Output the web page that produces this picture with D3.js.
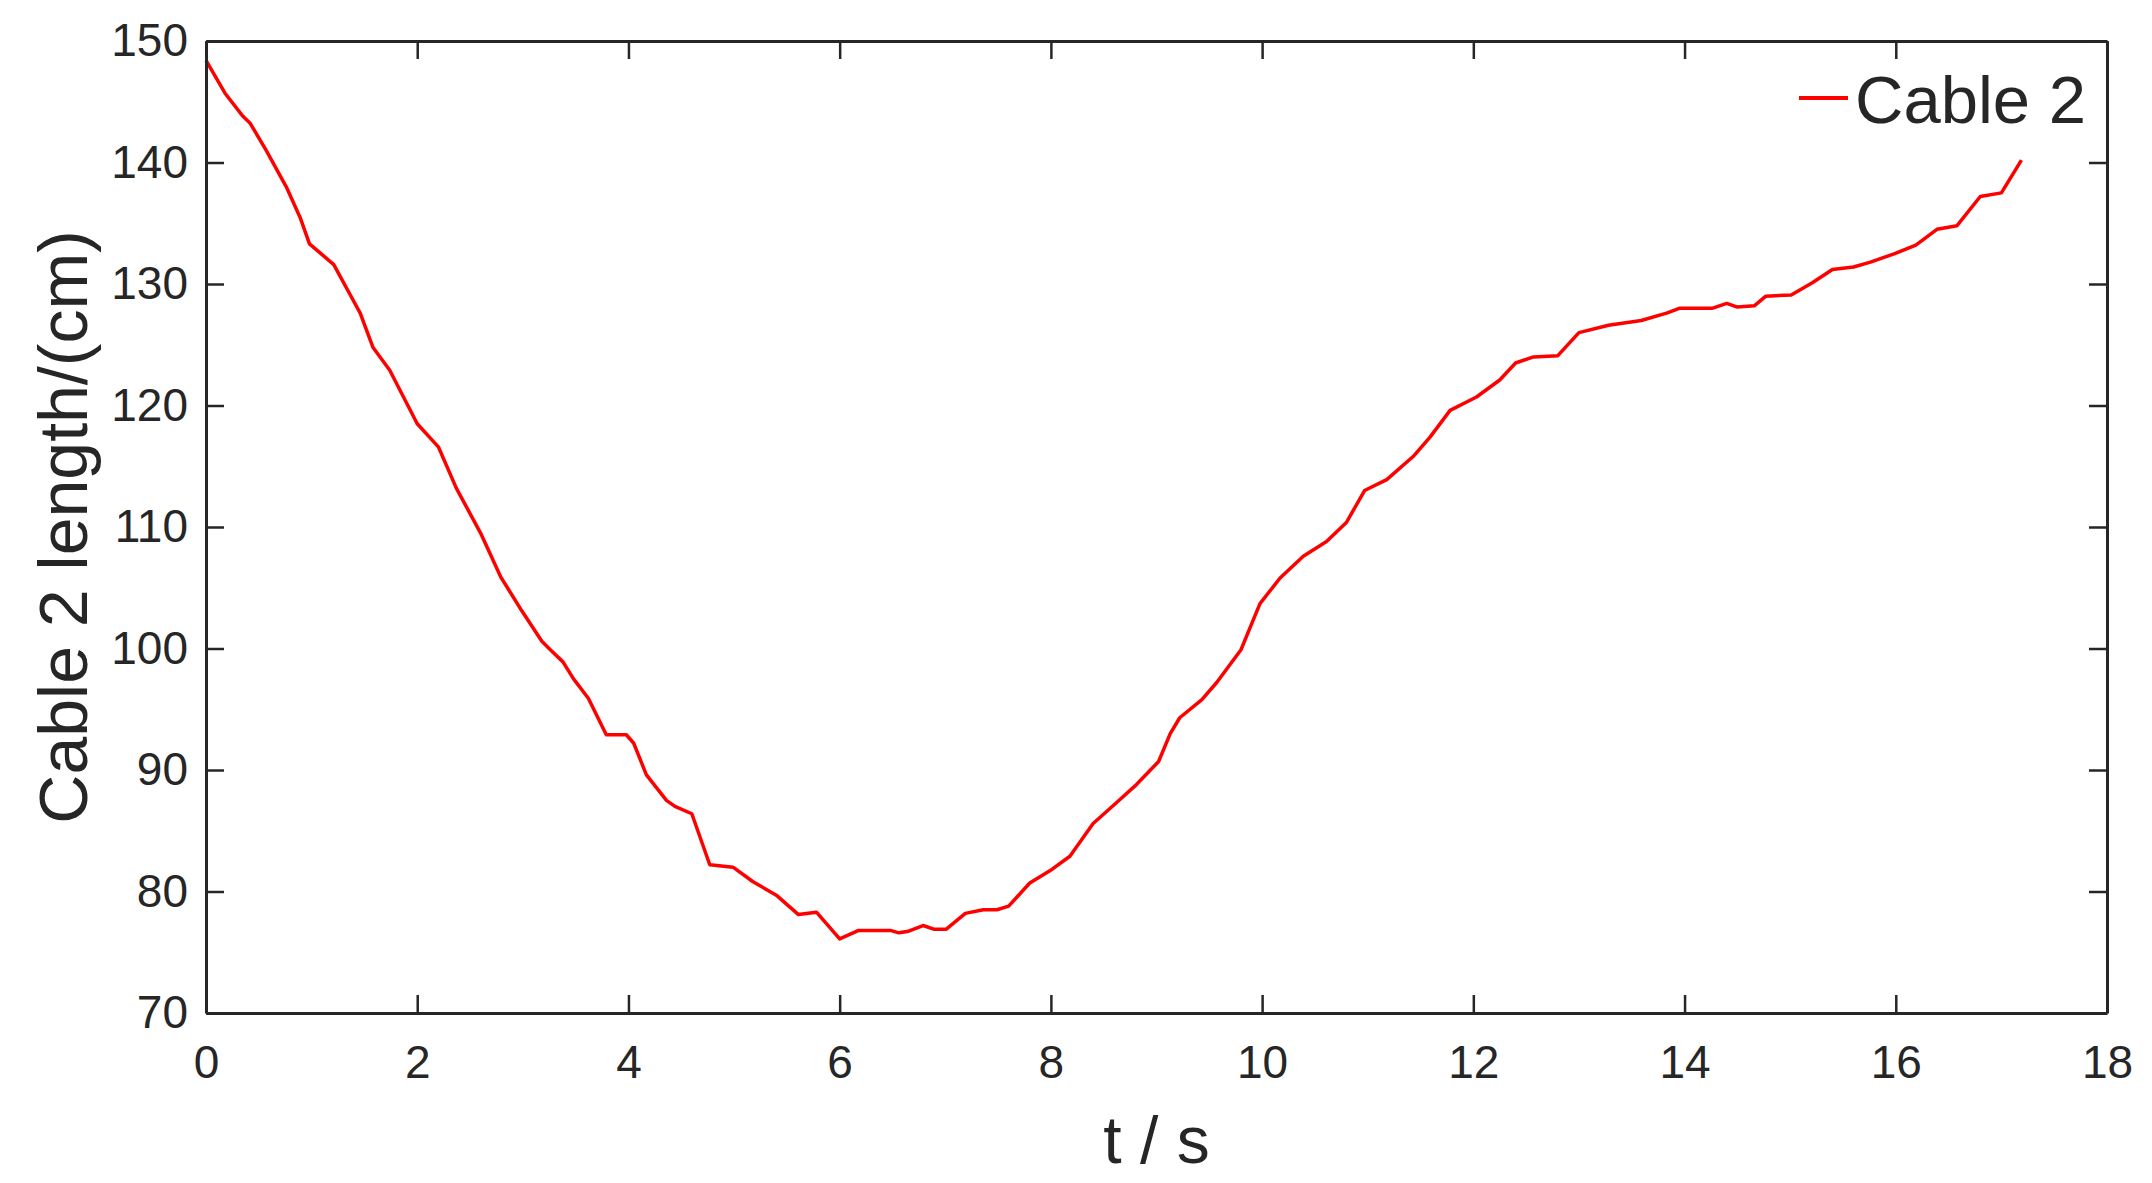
<!DOCTYPE html>
<html>
<head>
<meta charset="utf-8">
<script src="https://cdn.jsdelivr.net/npm/d3@7"></script>
<style>
  body { margin: 0; background: #fff; }
  svg text { font-family: 'Liberation Sans', Arial, sans-serif; fill: #262626; }
</style>
</head>
<body>
<div id="chart"></div>
<script>
// Time samples (s) and cable 2 length (cm)
const times = [
  0, 0.18, 0.35, 0.42, 0.57, 0.76, 0.89, 0.98, 1.21, 1.36,
  1.46, 1.58, 1.74, 1.87, 2.0, 2.2, 2.37, 2.6, 2.79, 2.99,
  3.18, 3.26, 3.38, 3.48, 3.62, 3.79, 3.98, 4.05, 4.17, 4.36,
  4.44, 4.6, 4.77, 4.99, 5.18, 5.4, 5.61, 5.78, 6.0, 6.18,
  6.48, 6.56, 6.64, 6.79, 6.89, 7.01, 7.19, 7.36, 7.49, 7.6,
  7.8, 7.99, 8.18, 8.4, 8.62, 8.81, 9.02, 9.13, 9.22, 9.43,
  9.57, 9.8, 9.89, 9.98, 10.17, 10.39, 10.61, 10.8, 10.97, 11.18,
  11.43, 11.59, 11.78, 12.03, 12.25, 12.4, 12.57, 12.8, 13.0, 13.28,
  13.59, 13.83, 13.95, 14.26, 14.4, 14.5, 14.66, 14.77, 15.01, 15.21,
  15.4, 15.6, 15.76, 15.99, 16.19, 16.39, 16.58, 16.8, 17.0, 17.19
];
const lengths = [
  148.4, 145.7, 143.8, 143.2, 141.0, 138.0, 135.5, 133.3, 131.6, 129.2,
  127.6, 124.8, 122.9, 120.7, 118.5, 116.6, 113.2, 109.5, 105.9, 103.1,
  100.6, 99.9, 98.9, 97.5, 95.9, 92.9, 92.9, 92.2, 89.6, 87.5,
  87.0, 86.4, 82.2, 82.0, 80.8, 79.7, 78.1, 78.3, 76.1, 76.8,
  76.8, 76.6, 76.7, 77.2, 76.9, 76.9, 78.2, 78.5, 78.5, 78.8,
  80.7, 81.7, 82.9, 85.6, 87.3, 88.8, 90.7, 93.0, 94.3, 95.8,
  97.2, 99.9, 101.8, 103.7, 105.8, 107.6, 108.8, 110.4, 113.0, 113.9,
  115.8, 117.4, 119.6, 120.7, 122.1, 123.5, 124.0, 124.1, 126.0, 126.6,
  127.0, 127.6, 128.0, 128.0, 128.4, 128.1, 128.2, 129.0, 129.1, 130.1,
  131.2, 131.4, 131.8, 132.5, 133.2, 134.5, 134.8, 137.2, 137.5, 140.2
];
const xTicks = [0, 2, 4, 6, 8, 10, 12, 14, 16, 18];
const yTicks = [70, 80, 90, 100, 110, 120, 130, 140, 150];
const seriesName = 'Cable 2';

const W = 2152, H = 1183;
const margin = { top: 41, right: 45, bottom: 170, left: 206 };
const width = W - margin.left - margin.right;
const height = H - margin.top - margin.bottom;
const axisColor = '#262626';

const svg = d3.select('#chart')
  .append('svg')
  .attr('width', W)
  .attr('height', H);

const g = svg.append('g')
  .attr('transform', `translate(${margin.left}, ${margin.top})`);

const x = d3.scaleLinear().domain([0, 18]).range([0, width]);
const y = d3.scaleLinear().domain([70, 150]).range([height, 0]);

const data = times.map((t, i) => ({ t, v: lengths[i] }));

// the curve
const line = d3.line()
  .x(d => x(d.t))
  .y(d => y(d.v));

g.append('path')
  .datum(data)
  .attr('fill', 'none')
  .attr('stroke', '#ff0000')
  .attr('stroke-width', 3.5)
  .attr('stroke-linejoin', 'round')
  .attr('d', line);

// axes, ticks point inward like matlab
const tickLen = 18;
const styleAxis = sel => {
  sel.select('.domain').attr('stroke', axisColor).attr('stroke-width', 3);
  sel.selectAll('.tick line').attr('stroke', axisColor).attr('stroke-width', 2.5);
};

const xAxis = g.append('g')
  .attr('transform', `translate(0, ${height})`)
  .call(d3.axisBottom(x).tickValues(xTicks).tickSizeInner(-tickLen).tickSizeOuter(0).tickPadding(32));
styleAxis(xAxis);
xAxis.selectAll('text').attr('font-size', 46).attr('fill', axisColor);

const yAxis = g.append('g')
  .call(d3.axisLeft(y).tickValues(yTicks).tickSizeInner(-tickLen).tickSizeOuter(0).tickPadding(18));
styleAxis(yAxis);
yAxis.selectAll('text').attr('font-size', 46).attr('fill', axisColor);

// mirrored box on top and right
const topAxis = g.append('g')
  .call(d3.axisTop(x).tickValues(xTicks).tickSizeInner(-tickLen).tickSizeOuter(0).tickFormat(''));
styleAxis(topAxis);

const rightAxis = g.append('g')
  .attr('transform', `translate(${width}, 0)`)
  .call(d3.axisRight(y).tickValues(yTicks).tickSizeInner(-tickLen).tickSizeOuter(0).tickFormat(''));
styleAxis(rightAxis);

// axis titles
svg.append('text')
  .attr('x', margin.left + width / 2)
  .attr('y', 1163)
  .attr('text-anchor', 'middle')
  .attr('font-size', 66)
  .text('t / s');

svg.append('text')
  .attr('transform', `translate(87, ${margin.top + height / 2}) rotate(-90)`)
  .attr('text-anchor', 'middle')
  .attr('font-size', 68)
  .text('Cable 2 length/(cm)');

// legend
const legend = g.append('g')
  .attr('transform', `translate(${width - 308}, 57)`);

legend.append('line')
  .attr('x1', 0).attr('x2', 49)
  .attr('y1', 0).attr('y2', 0)
  .attr('stroke', '#ff0000')
  .attr('stroke-width', 4);

legend.append('text')
  .attr('x', 56)
  .attr('y', 25)
  .attr('font-size', 67)
  .attr('fill', '#000')
  .text(seriesName);
</script>
</body>
</html>
